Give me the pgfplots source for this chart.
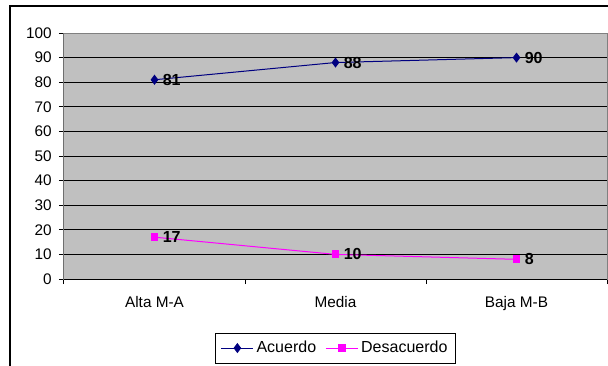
\documentclass[border=0pt]{standalone}
\usepackage{fontspec}
\setmainfont{Liberation Sans}
\usepackage{pgfplots}
\pgfplotsset{compat=1.18}
\definecolor{plotgray}{RGB}{192,192,192}
\definecolor{bordergray}{RGB}{128,128,128}
\definecolor{acuerdo}{RGB}{0,0,128}
\definecolor{desacuerdo}{RGB}{255,0,255}

\begin{document}
\begin{tikzpicture}
\useasboundingbox (0pt,0pt) rectangle (456pt,273.75pt);
% chart frame (right and bottom edges fall outside the picture)
\draw[black, line width=1pt] (7.5pt,-15pt) -- (7.5pt,269.25pt) -- (480pt,269.25pt);
\begin{axis}[
  at={(48pt,64.5pt)}, anchor=south west,
  scale only axis, width=407.25pt, height=184.5pt,
  xmin=-0.5, xmax=2.5, ymin=0, ymax=100,
  ytick={0,10,...,100},
  xtick={0,1,2}, xticklabels={Alta M-A,Media,Baja M-B},
  minor xtick={-0.5,0.5,1.5,2.5},
  major x tick style={draw=none},
  ymajorgrids, grid style={black, line width=0.75pt},
  tick align=outside, tick pos=left,
  major tick length=3.75pt, minor tick length=3.75pt,
  axis line style={draw=bordergray, line width=0.75pt},
  axis background/.style={fill=plotgray},
  every tick/.style={black, line width=0.75pt},
  tick label style={font=\fontsize{11.5}{13}\selectfont},
  /pgf/number format/assume math mode=true,
  yticklabel style={xshift=-2pt},
  xticklabel style={yshift=-6pt},
  nodes near coords,
  every node near coord/.append style={anchor=west, xshift=2.5pt, black,
    font=\fontsize{12}{14}\selectfont\bfseries},
  legend columns=2,
  legend style={at={(0.5,-0.2195)}, anchor=north, draw=black, fill=white,
    font=\fontsize{12}{14}\selectfont, inner xsep=4pt, inner ysep=4pt,
    /tikz/every even column/.append style={column sep=5pt}},
  legend image code/.code={%
    \draw[mark repeat=2,mark phase=2] plot coordinates {(0pt,0pt)(12pt,0pt)(24pt,0pt)};},
]
\addplot[color=acuerdo, line width=0.75pt, mark=diamond*, mark size=3.2pt,
  mark options={solid, fill=acuerdo}]
  coordinates {(0,81) (1,88) (2,90)};
\addlegendentry{Acuerdo}
\addplot[color=desacuerdo, line width=0.75pt, mark=square*, mark size=2.6pt,
  mark options={solid, fill=desacuerdo}]
  coordinates {(0,17) (1,10) (2,8)};
\addlegendentry{Desacuerdo}
\draw[bordergray, line width=0.75pt] (rel axis cs:0,1) -- (rel axis cs:1,1) -- (rel axis cs:1,0);
\draw[black, line width=0.75pt] (rel axis cs:0,1) -- (rel axis cs:0,0) -- (rel axis cs:1,0);
\end{axis}
\end{tikzpicture}
\end{document}
